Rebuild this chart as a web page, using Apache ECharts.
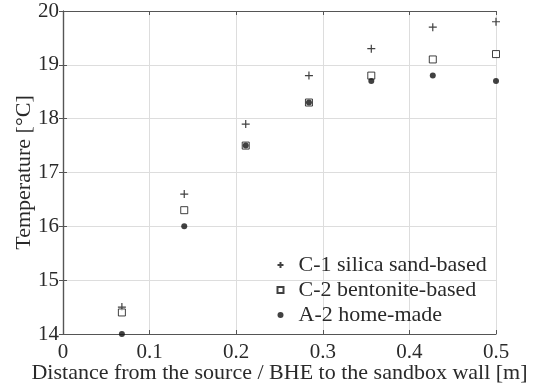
<!DOCTYPE html>
<html>
<head>
<meta charset="utf-8">
<script src="https://cdn.jsdelivr.net/npm/echarts@6/dist/echarts.min.js"></script>
<style>
  html, body { margin: 0; padding: 0; background: #fff; }
  #chart { width: 534px; height: 389px; }
</style>
</head>
<body>
<div id="chart"></div>
<script>
// distance from source [m]
var distances = [0.068, 0.14, 0.211, 0.284, 0.356, 0.427, 0.5];
// temperatures [°C]
var c1Silica = [14.5, 16.6, 17.9, 18.8, 19.3, 19.7, 19.8];
var c2Bentonite = [14.4, 16.3, 17.5, 18.3, 18.8, 19.1, 19.2];
var a2HomeMade = [14.0, 16.0, 17.5, 18.3, 18.7, 18.8, 18.7];
var seriesNames = ['C-1 silica sand-based', 'C-2 bentonite-based', 'A-2 home-made'];

function pairs(ys) {
    var out = [];
    for (var i = 0; i < ys.length; i++) {
        out.push([distances[i], ys[i]]);
    }
    return out;
}

var fontFam = '"Liberation Serif", "DejaVu Serif", serif';
var plusPath = 'path://M0,5L10,5M5,0L5,10';
var txtColor = '#2a2a2a';

var axisLine = {show: true, lineStyle: {color: '#555', width: 1.2}};
var axisTick = {show: true, inside: true, length: 4, lineStyle: {color: '#555'}};
var gridLine = {show: true, lineStyle: {color: '#ddd', width: 1}};

var chart = echarts.init(document.getElementById('chart'));
chart.setOption({
    animation: false,
    backgroundColor: '#fff',
    textStyle: {fontFamily: fontFam},
    grid: {left: 63, right: 38, top: 11, bottom: 55, containLabel: false, outerBoundsMode: 'none'},
    legend: {
        orient: 'vertical',
        left: 275,
        top: 254,
        padding: 0,
        itemGap: 3,
        itemWidth: 6,
        itemHeight: 6,
        textStyle: {fontFamily: fontFam, fontSize: 22, lineHeight: 22, color: txtColor, padding: [0, 0, 0, 10]},
        data: seriesNames
    },
    xAxis: [{
        type: 'value',
        min: 0, max: 0.5, interval: 0.1,
        name: 'Distance from the source / BHE to the sandbox wall [m]',
        nameLocation: 'middle',
        nameGap: 28,
        nameMoveOverlap: false,
        nameTextStyle: {fontFamily: fontFam, fontSize: 22, color: txtColor},
        axisLine: axisLine,
        axisTick: axisTick,
        axisLabel: {fontFamily: fontFam, fontSize: 21, color: txtColor, margin: 8},
        splitLine: gridLine
    }, {
        type: 'value', position: 'top',
        min: 0, max: 0.5, interval: 0.1,
        axisLine: axisLine,
        axisTick: axisTick,
        axisLabel: {show: false},
        splitLine: {show: false}
    }],
    yAxis: [{
        type: 'value',
        min: 14, max: 20, interval: 1,
        name: 'Temperature [°C]',
        nameLocation: 'middle',
        nameGap: 28,
        nameMoveOverlap: false,
        nameTextStyle: {fontFamily: fontFam, fontSize: 22, color: txtColor},
        axisLine: axisLine,
        axisTick: axisTick,
        axisLabel: {fontFamily: fontFam, fontSize: 21, color: txtColor, margin: 4},
        splitLine: gridLine
    }, {
        type: 'value', position: 'right',
        min: 14, max: 20, interval: 1,
        axisLine: axisLine,
        axisTick: axisTick,
        axisLabel: {show: false},
        splitLine: {show: false}
    }],
    series: [{
        name: seriesNames[0],
        type: 'scatter',
        data: pairs(c1Silica),
        symbol: plusPath,
        symbolSize: 8,
        itemStyle: {color: 'none', borderColor: '#111', borderWidth: 1.2}
    }, {
        name: seriesNames[1],
        type: 'scatter',
        data: pairs(c2Bentonite),
        symbol: 'rect',
        symbolSize: 7,
        itemStyle: {color: '#fff', borderColor: '#111', borderWidth: 1}
    }, {
        name: seriesNames[2],
        type: 'scatter',
        data: pairs(a2HomeMade),
        symbol: 'circle',
        symbolSize: 6,
        itemStyle: {color: '#111'}
    }]
});
</script>
</body>
</html>
